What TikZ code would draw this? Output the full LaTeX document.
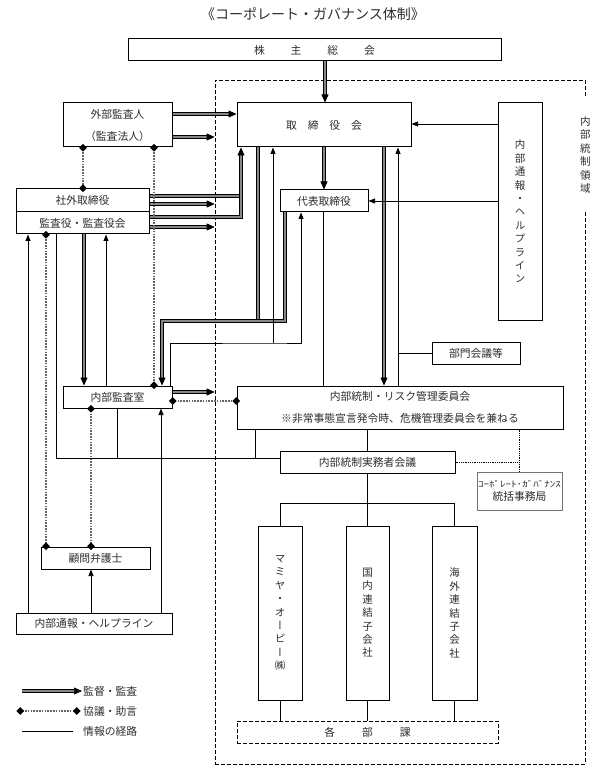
\documentclass[tikz,border=0pt]{standalone}
\usepackage{fontspec}
\setmainfont{Noto Sans CJK JP}
\newfontfamily\vfont[RawFeature=+vert]{Noto Sans CJK JP}
\usetikzlibrary{arrows.meta, positioning, calc}
\definecolor{ink}{RGB}{45, 45, 45}
\definecolor{dbl}{RGB}{135, 135, 135}
\tikzset{
    box/.style={rectangle, draw=black, line width=1pt, fill=white, text=ink, align=center, inner sep=1pt, font=\fontsize{10.8}{22}\selectfont},
    vbox/.style={box, font=\vfont\fontsize{10.5}{13.4}\selectfont},
    region/.style={rectangle, draw=black, line width=0.7pt, dash pattern=on 4pt off 2pt},
    sup/.style={draw=black, line width=0.7pt, double=dbl, double distance=1.9pt, -{Triangle[length=8pt, width=7pt]}},
    con/.style={draw=black!60, line width=2.6pt, dash pattern=on 1.6pt off 1.2pt, shorten <=-3pt, shorten >=-3pt, {Circle[length=6.5pt, color=black]}-{Circle[length=6.5pt, color=black]}},
    info/.style={draw=black, line width=0.75pt},
    infoarr/.style={info, -{Triangle[length=6.5pt, width=5pt]}},
    note/.style={draw=black, line width=0.8pt, densely dotted},
    legend/.style={anchor=west, text=ink, inner sep=1pt, font=\fontsize{10.8}{12}\selectfont}
}

\begin{document}
\begin{tikzpicture}[x=1pt, y=-1pt]
    \useasboundingbox (0,0) rectangle (607,775);
    \node[text=ink, font=\fontsize{14}{16}\selectfont] (title) at (313,14) {《コーポレート・ガバナンス体制》};

    % 内部統制領域
    \node[region, minimum width=370pt, minimum height=684pt] (ic) at (400,422) {};
    \node[vbox, draw=none, minimum height=114pt] (iclab) at (ic.east |- 0,155) {内\\部\\統\\制\\領\\域};

    \node[box, minimum width=373pt, minimum height=22pt] (agm) at (314.5,50) {株\hspace{2.4em}主\hspace{2.4em}総\hspace{2.4em}会};
    \node[box, minimum width=109pt, minimum height=44pt] (extaud) at (117.5,125) {外部監査人\\（監査法人）};
    \node[box, minimum width=174pt, minimum height=44pt] (board) at (324,125) {取　締　役　会};
    \node[vbox, minimum width=44pt, minimum height=217pt] (hl1) at (520,211.5) {内\\部\\通\\報\\・\\ヘ\\ル\\プ\\ラ\\イ\\ン};
    \node[box, minimum width=133pt, minimum height=23pt] (outdir) at (82.5,200.5) {社外取締役};
    \node[box, minimum width=133pt, minimum height=22pt] (kansa) at (82.5,223) {監査役・監査役会};
    \node[box, minimum width=88pt, minimum height=22pt] (rep) at (324,201) {代表取締役};
    \node[box, minimum width=88pt, minimum height=22pt] (dept) at (476,353) {部門会議等};
    \node[box, minimum width=109pt, minimum height=22pt] (iaud) at (117.5,397) {内部監査室};
    \node[box, minimum width=326pt, minimum height=43pt] (risk) at (400,407.5) {内部統制・リスク管理委員会\\※非常事態宣言発令時、危機管理委員会を兼ねる};
    \node[box, minimum width=175pt, minimum height=22pt] (prac) at (367.5,462) {内部統制実務者会議};
    \node[box, draw=black!55, line width=0.5pt, minimum width=85pt, minimum height=38pt, font=\fontsize{10.8}{13}\selectfont] (cgo) at (519.5,491) {\scalebox{1.3}[1]{\fontsize{8.5}{9}\selectfont ｺｰﾎﾟﾚｰﾄ･ｶﾞﾊﾞﾅﾝｽ}\\統括事務局};
    \node[box, minimum width=109pt, minimum height=22pt] (lawyer) at (95.5,558) {顧問弁護士};
    \node[box, minimum width=156pt, minimum height=21pt] (hl2) at (94,623.5) {内部通報・ヘルプライン};
    \node[vbox, minimum width=44pt, minimum height=174pt] (mop) at (280,613) {マ\\ミ\\ヤ\\・\\オ\\ー\\ピ\\ー\\㈱};
    \node[vbox, minimum width=43pt, minimum height=174pt] (dom) at (367.5,613) {国\\内\\連\\結\\子\\会\\社};
    \node[vbox, minimum width=45pt, minimum height=174pt] (ovs) at (454.5,613) {海\\外\\連\\結\\子\\会\\社};
    \node[box, dash pattern=on 4pt off 2pt, line width=0.7pt, minimum width=261pt, minimum height=22pt] (secs) at (367.5,732) {各\hspace{2.5em}部\hspace{2.5em}課};

    % junctions
    \coordinate (jout) at (241,196);
    \coordinate (jtop) at (258,321);
    \coordinate (jinfo) at (273,343);
    \coordinate (jmid) at (117,458);
    \coordinate (jrisk) at (255,458);

    % 監督・監査
    \draw[sup] (agm.south -| 325,0) -- (board.north -| 325,0);
    \draw[sup] (extaud.east |- 0,114) -- (board.west |- 0,114);
    \draw[sup] (extaud.east |- 0,137) -- (ic.west |- 0,137);
    \draw[sup, -] (outdir.east |- jout) -- (jout);
    \draw[sup] (kansa.east |- 0,217) -| (board.south -| jout);
    \draw[sup] (outdir.east |- 0,204) -- (ic.west |- 0,204);
    \draw[sup] (kansa.east |- 0,227) -- (ic.west |- 0,227);
    \draw[sup] (board.south) -- (rep.north);
    \draw[sup, -] (board.south -| jtop) -- (jtop);
    \draw[sup] (rep.south -| 285,0) |- (jtop) -| (iaud.north -| 162,0);
    \draw[sup] (board.south -| 384,0) -- (risk.north -| 384,0);
    \draw[sup] (kansa.south -| 84,0) -- (iaud.north -| 84,0);
    \draw[sup] (iaud.east |- 0,392) -- (ic.west |- 0,392);

    % 協議・助言
    \draw[con] (extaud.south -| 83,0) -- (outdir.north -| 83,0);
    \draw[con] (extaud.south -| 154,0) -- (iaud.north -| 154,0);
    \draw[con] (iaud.east |- 0,401) -- (risk.west |- 0,401);
    \draw[con] (kansa.south -| 46,0) -- (lawyer.north -| 46,0);
    \draw[con] (iaud.south -| 91,0) -- (lawyer.north -| 91,0);

    % 情報の経路
    \draw[infoarr] (hl1.west |- 0,124) -- (board.east |- 0,124);
    \draw[infoarr] (hl1.west |- rep) -- (rep.east);
    \draw[infoarr] (iaud.north -| 170,0) |- (jinfo) -| (rep.south -| 301,0);
    \draw[infoarr] (jinfo) -- (board.south -| jinfo);
    \draw[info] (rep.south -| 323,0) -- (risk.north -| 323,0);
    \draw[infoarr] (risk.north -| 398,0) -- (board.south -| 398,0);
    \draw[info] (dept.west) -- (dept.west -| 398,0);
    \draw[infoarr] (iaud.north -| 106,0) -- (kansa.south -| 106,0);
    \draw[infoarr] (hl2.north -| 28,0) -- (kansa.south -| 28,0);
    \draw[info] (kansa.south -| 56,0) |- (prac.west |- jmid);
    \draw[info] (iaud.south -| jmid) -- (jmid);
    \draw[info] (risk.south -| jrisk) -- (jrisk);
    \draw[infoarr] (hl2.north -| 161,0) -- (iaud.south -| 161,0);
    \draw[infoarr] (hl2.north -| 91,0) -- (lawyer.south -| 91,0);
    \draw[info] (risk.south -| prac) -- (prac.north);
    \draw[info] (prac.south) -- (dom.north);
    \draw[info] (mop.north) -- ++(0,-22) -| (ovs.north);
    \draw[info] (mop.south) -- (secs.north -| mop);
    \draw[info] (dom.south) -- (secs.north -| dom);
    \draw[info] (ovs.south) -- (secs.north -| ovs);
    \draw[note] (risk.south -| cgo) -- (cgo.north);
    \draw[note] (prac.east) -- (prac.east -| cgo);

    % 凡例
    \node[legend] (lgsup) at (82,691) {監督・監査};
    \node[legend] (lgcon) at (82,711) {協議・助言};
    \node[legend] (lginfo) at (82,731) {情報の経路};
    \coordinate (lgsupa) at (22,691);
    \coordinate (lgcona) at (20,711);
    \coordinate (lginfoa) at (22,731);
    \draw[sup] (lgsupa) -- (lgsup.west);
    \draw[con] (lgcona) -- ([xshift=-5pt]lgcon.west);
    \draw[info] (lginfoa) -- ([xshift=-9pt]lginfo.west);
\end{tikzpicture}
\end{document}
